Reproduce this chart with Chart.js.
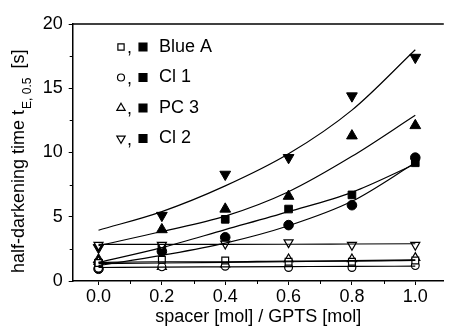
<!DOCTYPE html>
<html>
<head>
<meta charset="utf-8">
<script src="https://cdn.jsdelivr.net/npm/chart.js@4/dist/chart.umd.min.js"></script>
<style>
html,body{margin:0;padding:0;background:#fff;}
canvas{display:block;}
</style>
</head>
<body>
<canvas id="c" width="451" height="328"></canvas>
<script>
// ---- data ----
const xValues = [0.0, 0.2, 0.4, 0.6, 0.8, 1.0];
const seriesNames = ['Blue A', 'Cl 1', 'PC 3', 'Cl 2'];

// filled symbols (measured)
const blueAFilled = [1.4, 2.7, 4.8, 5.6, 6.7, 9.2];
const cl1Filled   = [0.95, 2.3, 3.4, 4.35, 5.9, 9.6];
const pc3Filled   = [1.65, 4.0, 5.6, 6.6, 11.3, 12.1];
const cl2Filled   = [2.6, 5.1, 8.3, 9.6, 14.4, 17.4];

// open symbols (measured)
const blueAOpen = [1.4, 1.65, 1.6, 1.5, 1.5, 1.6];
const cl1Open   = [1.0, 1.1, 1.15, 1.05, 1.05, 1.2];
const pc3Open   = [1.5, 1.1, 1.3, 1.7, 1.7, 1.8];
const cl2Open   = [2.8, 2.8, 2.9, 3.0, 2.8, 2.8];

// fitted curves at the same x positions
const blueAFilledFit = [1.45, 2.6, 4.0, 5.4, 6.9, 9.1];
const cl1FilledFit   = [1.2, 2.0, 2.95, 4.3, 6.2, 9.2];
const pc3FilledFit   = [2.75, 3.85, 5.05, 6.95, 9.7, 12.9];
const cl2FilledFit   = [3.95, 5.4, 7.4, 9.9, 13.3, 18.0];
const blueAOpenFit = [1.45, 1.5, 1.5, 1.55, 1.55, 1.6];
const cl1OpenFit   = [1.05, 1.08, 1.1, 1.12, 1.14, 1.15];
const pc3OpenFit   = [1.35, 1.4, 1.45, 1.5, 1.58, 1.65];
const cl2OpenFit   = [2.85, 2.85, 2.85, 2.86, 2.88, 2.9];

// ticks
const xTicks = [0.0, 0.2, 0.4, 0.6, 0.8, 1.0];
const xTickLabels = ['0.0', '0.2', '0.4', '0.6', '0.8', '1.0'];
const xMinorTicks = [0.1, 0.3, 0.5, 0.7, 0.9];
const yTicks = [0, 5, 10, 15, 20];
const yTickLabels = ['0', '5', '10', '15', '20'];
const yMinorTicks = [2.5, 7.5, 12.5, 17.5];

const xTitle = 'spacer [mol] / GPTS [mol]';
const yTitleMain = 'half-darkening time t';
const yTitleSub = 'E, 0.5';
const yTitleUnit = '[s]';

// ---- build ----
const FONT = '"Liberation Sans", Arial, sans-serif';
const FS = 18;
const toXY = (arr) => arr.map((v, i) => ({x: xValues[i], y: v}));

const markerDefs = [
  {style: 'rect', rot: 0, rFilled: 5.4, rOpen: 4.8},
  {style: 'circle', rot: 0, rFilled: 4.8, rOpen: 3.9},
  {style: 'triangle', rot: 0, rFilled: 6.2, rOpen: 5.2},
  {style: 'triangle', rot: 180, rFilled: 6.2, rOpen: 5.2}
];

const filledSets = [blueAFilled, cl1Filled, pc3Filled, cl2Filled];
const openSets = [blueAOpen, cl1Open, pc3Open, cl2Open];
const filledFits = [blueAFilledFit, cl1FilledFit, pc3FilledFit, cl2FilledFit];
const openFits = [blueAOpenFit, cl1OpenFit, pc3OpenFit, cl2OpenFit];

const datasets = [];
[...filledFits, ...openFits].forEach((f) => {
  datasets.push({
    data: toXY(f), showLine: true, borderColor: '#000', borderWidth: 1.2,
    pointRadius: 0, tension: 0.4, cubicInterpolationMode: 'monotone', fill: false
  });
});
openSets.forEach((s, i) => {
  datasets.push({
    data: toXY(s), showLine: false, pointStyle: markerDefs[i].style,
    rotation: markerDefs[i].rot, pointRadius: markerDefs[i].rOpen,
    backgroundColor: '#fff', borderColor: '#000', borderWidth: 1.2
  });
});
filledSets.forEach((s, i) => {
  datasets.push({
    data: toXY(s), showLine: false, pointStyle: markerDefs[i].style,
    rotation: markerDefs[i].rot, pointRadius: markerDefs[i].rFilled,
    backgroundColor: '#000', borderColor: '#000', borderWidth: 1
  });
});

const decorPlugin = {
  id: 'decor',
  afterDraw(chart) {
    const ctx = chart.ctx;
    const ca = chart.chartArea;
    const xs = chart.scales.x, ys = chart.scales.y;
    ctx.save();
    // top frame line
    ctx.strokeStyle = '#000';
    ctx.lineWidth = 1.5;
    ctx.beginPath();
    ctx.moveTo(ca.left, ca.top);
    ctx.lineTo(ca.right, ca.top);
    ctx.stroke();
    // minor ticks
    ctx.lineWidth = 1;
    xMinorTicks.forEach((v) => {
      const px = Math.round(xs.getPixelForValue(v)) + 0.5;
      ctx.beginPath(); ctx.moveTo(px, ca.bottom); ctx.lineTo(px, ca.bottom + 3); ctx.stroke();
    });
    yMinorTicks.forEach((v) => {
      const py = Math.round(ys.getPixelForValue(v)) + 0.5;
      ctx.beginPath(); ctx.moveTo(ca.left, py); ctx.lineTo(ca.left - 3, py); ctx.stroke();
    });
    // y title with subscript
    ctx.fillStyle = '#000';
    ctx.translate(24, 273);
    ctx.rotate(-Math.PI / 2);
    ctx.textBaseline = 'alphabetic';
    ctx.textAlign = 'left';
    ctx.font = FS + 'px ' + FONT;
    ctx.fillText(yTitleMain, 0, 0);
    let w = ctx.measureText(yTitleMain).width;
    ctx.font = '12px ' + FONT;
    ctx.fillText(yTitleSub, w + 1, 7);
    w += ctx.measureText(yTitleSub).width + 10;
    ctx.font = FS + 'px ' + FONT;
    ctx.fillText(yTitleUnit, w, 0);
    ctx.restore();

    // legend
    ctx.save();
    seriesNames.forEach((name, i) => {
      const cy = 47 + 30.5 * i;
      const m = markerDefs[i];
      ctx.fillStyle = '#fff'; ctx.strokeStyle = '#000'; ctx.lineWidth = 1.2;
      Chart.helpers.drawPoint(ctx, {pointStyle: m.style, rotation: m.rot, radius: m.rOpen - 0.4, borderWidth: 1.2}, 121, cy);
      ctx.fillStyle = '#000';
      ctx.font = FS + 'px ' + FONT;
      ctx.textBaseline = 'alphabetic';
      ctx.textAlign = 'left';
      ctx.fillText(',', 127, cy + 6);
      Chart.helpers.drawPoint(ctx, {pointStyle: 'rect', rotation: 0, radius: 5.6, borderWidth: 1}, 143, cy);
      ctx.textBaseline = 'middle';
      ctx.fillStyle = '#000';
      ctx.fillText(name, 159, cy);
    });
    ctx.restore();
  }
};

new Chart(document.getElementById('c'), {
  type: 'scatter',
  data: {datasets},
  plugins: [decorPlugin],
  options: {
    responsive: false,
    animation: false,
    devicePixelRatio: 1,
    layout: {padding: {top: 24, right: 0, left: 0, bottom: 0}},
    plugins: {legend: {display: false}, tooltip: {enabled: false}},
    scales: {
      x: {
        type: 'linear', min: -0.0815, max: 1.09,
        afterBuildTicks: (s) => { s.ticks = xTicks.map((v) => ({value: v})); },
        afterFit: (s) => { s.height = 47; },
        ticks: {
          callback: (v) => { const i = xTicks.findIndex((t) => Math.abs(t - v) < 1e-9); return i >= 0 ? xTickLabels[i] : ''; },
          color: '#000', font: {family: FONT, size: FS}, padding: 1, maxRotation: 0, autoSkip: false
        },
        grid: {display: true, drawOnChartArea: false, drawTicks: true, tickLength: 4, color: '#000', lineWidth: 1},
        border: {display: true, color: '#000', width: 1.5},
        title: {display: true, text: xTitle, color: '#000', font: {family: FONT, size: FS}, padding: {top: 0, bottom: 0}}
      },
      y: {
        type: 'linear', min: 0, max: 20,
        afterBuildTicks: (s) => { s.ticks = yTicks.map((v) => ({value: v})); },
        afterFit: (s) => { s.width = 72.7; },
        ticks: {
          callback: (v) => { const i = yTicks.indexOf(v); return i >= 0 ? yTickLabels[i] : ''; },
          color: '#000', font: {family: FONT, size: FS}, padding: 6
        },
        grid: {display: true, drawOnChartArea: false, drawTicks: true, tickLength: 4, color: '#000', lineWidth: 1},
        border: {display: true, color: '#000', width: 1.5}
      }
    }
  }
});
</script>
</body>
</html>
